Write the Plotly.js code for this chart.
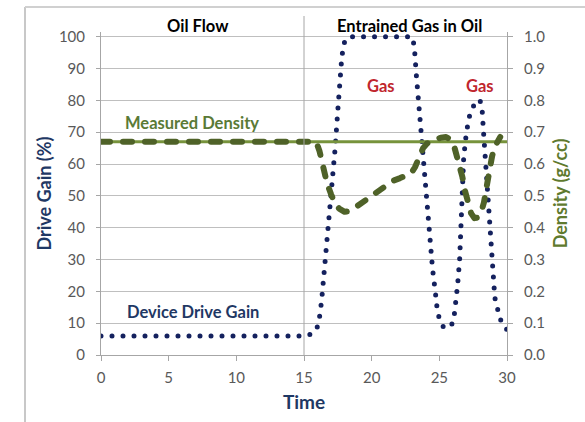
<!DOCTYPE html>
<html>
<head>
<meta charset="utf-8">
<script src="https://cdn.plot.ly/plotly-3.0.1.min.js"></script>
<style>
html,body{margin:0;padding:0;background:#fff;}
#chart{width:585px;height:422px;}
.js-line{stroke-linecap:round;stroke-linejoin:round;}
</style>
</head>
<body>
<div id="chart"></div>
<script>
// Device drive gain (%)
const gainTime = [0, 15, 15.5, 15.8, 16.0, 16.15, 16.3, 16.5, 16.7, 16.9, 17.1, 17.3, 17.5, 17.65, 17.8, 18.0, 18.3, 23.0, 23.15, 23.3, 23.5, 23.7, 23.95, 24.1, 24.3, 24.5, 24.7, 24.85, 25.05, 25.3, 25.55, 25.8, 26.05, 26.2, 26.35, 26.5, 26.65, 26.8, 27.0, 27.25, 27.5, 27.75, 28.0, 28.15, 28.25, 28.4, 28.5, 28.65, 28.8, 28.9, 29.0, 29.1, 29.3, 29.5, 29.75, 30];
const gainValues = [6, 6, 6.5, 7.5, 9, 12, 17, 26, 35, 47, 57, 65, 77, 87, 94, 98.5, 100, 100, 97, 88, 78, 66, 55, 47, 35, 27, 20, 14, 10.5, 8.8, 8.4, 9, 10.5, 15, 22, 30, 45, 62, 70, 75.5, 78, 80, 80, 78, 71, 62, 55, 45, 35, 27, 21.5, 18, 14.5, 11.3, 9, 8];
// Density (g/cc) during the test
const densTime = [0, 15.9, 16.15, 16.4, 16.7, 17.0, 17.3, 17.6, 18.0, 18.4, 19.0, 19.7, 20.4, 21.0, 21.6, 22.1, 22.5, 22.9, 23.2, 23.5, 23.8, 24.1, 24.6, 25.1, 25.5, 25.8, 26.1, 26.4, 26.7, 26.9, 27.1, 27.35, 27.6, 27.85, 28.1, 28.3, 28.5, 28.7, 28.9, 29.1, 29.3, 29.5];
const densValues = [0.67, 0.67, 0.64, 0.59, 0.54, 0.505, 0.475, 0.46, 0.45, 0.452, 0.47, 0.49, 0.51, 0.53, 0.548, 0.556, 0.562, 0.57, 0.59, 0.625, 0.65, 0.665, 0.675, 0.683, 0.685, 0.678, 0.655, 0.61, 0.56, 0.515, 0.475, 0.445, 0.43, 0.432, 0.45, 0.48, 0.53, 0.585, 0.625, 0.655, 0.675, 0.685];
// Measured density reference line
const measuredTime = [0, 30];
const measuredValues = [0.67, 0.67];
// Tick labels
const xTicks = [0, 5, 10, 15, 20, 25, 30];
const yTicks = [0, 10, 20, 30, 40, 50, 60, 70, 80, 90, 100];
const y2Ticks = [0, 0.1, 0.2, 0.3, 0.4, 0.5, 0.6, 0.7, 0.8, 0.9, 1.0];
const y2TickText = ['0.0','0.1','0.2','0.3','0.4','0.5','0.6','0.7','0.8','0.9','1.0'];

const FONT = 'Lato, "Liberation Sans", sans-serif';
const navy = '#14215e';
const olive = '#4f6228';
const oliveLight = '#77933c';
const gridc = '#bfbfbf';

const traces = [
  {x: measuredTime, y: measuredValues, yaxis: 'y2', mode: 'lines',
   line: {color: oliveLight, width: 3}, hoverinfo: 'skip'},
  {x: densTime, y: densValues, yaxis: 'y2', mode: 'lines',
   line: {color: olive, width: 6, dash: '9px,13px'}, hoverinfo: 'skip'},
  {x: gainTime, y: gainValues, mode: 'lines',
   line: {color: navy, width: 5, dash: '0px,11px'}, hoverinfo: 'skip'}
];

function ann(text, xref, yref, x, y, color) {
  return {text: '<b>' + text + '</b>', xref: xref, yref: yref, x: x, y: y, showarrow: false,
          xanchor: 'center', yanchor: 'middle',
          font: {family: FONT, size: 16.5, color: color}};
}

const layout = {
  width: 585, height: 422,
  margin: {l: 101, r: 78, t: 32, b: 67},
  paper_bgcolor: '#fff', plot_bgcolor: '#fff',
  showlegend: false,
  font: {family: FONT, color: '#595959', size: 15},
  xaxis: {
    range: [0, 30], tickvals: xTicks, ticktext: xTicks.map(String),
    showgrid: false, zeroline: false, showline: true, linecolor: '#a6a6a6', linewidth: 1,
    ticks: 'outside', ticklen: 5, tickcolor: '#a6a6a6', ticklabelstandoff: 4,
    tickfont: {family: FONT, size: 15, color: '#595959'},
    title: {text: '<b>Time</b>', font: {family: FONT, size: 19, color: '#1f3864'}, standoff: 10}
  },
  yaxis: {
    range: [0, 101.5], tickvals: yTicks, ticktext: yTicks.map(String),
    showgrid: true, gridcolor: gridc, gridwidth: 1, zeroline: false,
    showline: true, linecolor: '#a6a6a6', linewidth: 1,
    ticks: 'outside', ticklen: 4, tickcolor: '#a6a6a6', ticklabelstandoff: 8,
    tickfont: {family: FONT, size: 15, color: '#595959'},
    title: {text: '<b>Drive Gain (%)</b>', font: {family: FONT, size: 18, color: '#1f3864'}, standoff: 2}
  },
  yaxis2: {
    overlaying: 'y', side: 'right',
    range: [0, 1.015], tickvals: y2Ticks, ticktext: y2TickText,
    showgrid: false, zeroline: false, showline: true, linecolor: '#a6a6a6', linewidth: 1,
    ticks: 'outside', ticklen: 5, tickcolor: '#a6a6a6', ticklabelstandoff: 8,
    tickfont: {family: FONT, size: 15, color: '#595959'},
    title: {text: '<b>Density (g/cc)</b>', font: {family: FONT, size: 18, color: '#5f7a2e'}, standoff: 10}
  },
  shapes: [
    {type: 'line', xref: 'paper', yref: 'paper', x0: -0.1872, x1: -0.1872, y0: 1.0774, y1: -0.21,
     line: {color: '#c8c8c8', width: 2}},
    {type: 'line', xref: 'paper', yref: 'paper', x0: -0.1872, x1: 1.2, y0: 1.0774, y1: 1.0774,
     line: {color: '#d0d0d0', width: 2}},
    {type: 'line', xref: 'x', yref: 'paper', x0: 15, x1: 15, y0: 0, y1: 1.0495,
     line: {color: '#a6a6a6', width: 1}}
  ],
  annotations: [
    ann('Oil Flow', 'x', 'paper', 7.2, 1.0186, '#000'),
    ann('Entrained Gas in Oil', 'x', 'paper', 22.8, 1.0186, '#000'),
    ann('Measured Density', 'x', 'y', 6.7, 73, '#5a7a36'),
    ann('Device Drive Gain', 'x', 'y', 6.8, 13.5, '#1f3864'),
    ann('Gas', 'x', 'y', 20.7, 84.6, '#c0262d'),
    ann('Gas', 'x', 'y', 28.0, 84.6, '#c0262d')
  ]
};

Plotly.newPlot('chart', traces, layout, {staticPlot: true, displayModeBar: false});
</script>
</body>
</html>
